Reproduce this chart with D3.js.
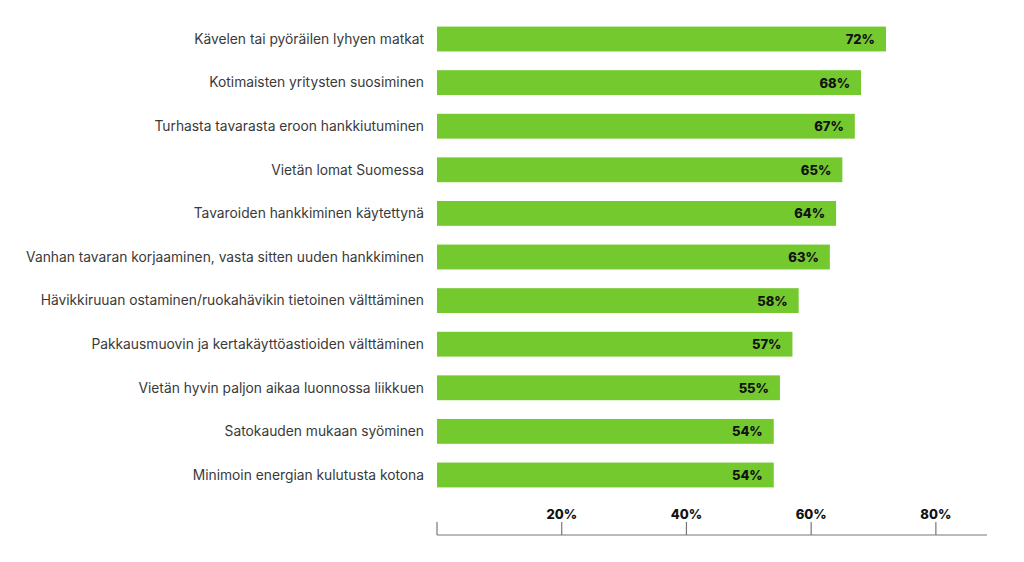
<!DOCTYPE html>
<html><head><meta charset="utf-8">
<script src="https://cdn.jsdelivr.net/npm/d3@7"></script>
<style>body{margin:0;background:#fff;}svg{display:block;}</style>
</head><body>
<svg id="chart" width="1024" height="562"></svg>
<script>
const categories = [
  "Kävelen tai pyöräilen lyhyen matkat",
  "Kotimaisten yritysten suosiminen",
  "Turhasta tavarasta eroon hankkiutuminen",
  "Vietän lomat Suomessa",
  "Tavaroiden hankkiminen käytettynä",
  "Vanhan tavaran korjaaminen, vasta sitten uuden hankkiminen",
  "Hävikkiruuan ostaminen/ruokahävikin tietoinen välttäminen",
  "Pakkausmuovin ja kertakäyttöastioiden välttäminen",
  "Vietän hyvin paljon aikaa luonnossa liikkuen",
  "Satokauden mukaan syöminen",
  "Minimoin energian kulutusta kotona"
];
const values = [72, 68, 67, 65, 64, 63, 58, 57, 55, 54, 54];
const tickValues = [20, 40, 60, 80];

const svg = d3.select("#chart");
const x = d3.scaleLinear().domain([0, 88.2]).range([437, 987]);
const y = d3.scaleBand().domain(categories).range([17, 497]).paddingInner(0.43).paddingOuter(0.22);

const g = svg.append("g");
g.selectAll("rect.bar").data(values).join("rect")
  .attr("class", "bar")
  .attr("x", x(0))
  .attr("y", (d, i) => y(categories[i]))
  .attr("width", d => x(d) - x(0))
  .attr("height", y.bandwidth())
  .attr("fill", "#74c92f");

g.selectAll("text.cat").data(categories).join("text")
  .attr("class", "cat")
  .attr("x", 424)
  .attr("y", d => y(d) + y.bandwidth() / 2)
  .attr("dy", "0.35em")
  .attr("text-anchor", "end")
  .attr("font-family", "Inter, 'Noto Sans', sans-serif")
  .attr("font-size", 13.8)
  .attr("fill", "#3a3a3a")
  .text(d => d);

g.selectAll("text.val").data(values).join("text")
  .attr("class", "val")
  .attr("x", d => x(d) - 11)
  .attr("y", (d, i) => y(categories[i]) + y.bandwidth() / 2)
  .attr("dy", "0.38em")
  .attr("text-anchor", "end")
  .attr("font-family", "Inter, 'Noto Sans', sans-serif")
  .attr("font-weight", 800)
  .attr("font-size", 13)
  .attr("fill", "#111")
  .text(d => d + "%");

// axis
const ax = svg.append("g").attr("transform", "translate(0,535)");
ax.append("line").attr("x1", x(0)).attr("x2", x(88.2)).attr("y1", 0).attr("y2", 0)
  .attr("stroke", "#777").attr("stroke-width", 1.2);
ax.selectAll("line.tick").data([0].concat(tickValues)).join("line")
  .attr("class", "tick")
  .attr("x1", d => x(d)).attr("x2", d => x(d))
  .attr("y1", -13).attr("y2", 0)
  .attr("stroke", "#777").attr("stroke-width", 1.2);
ax.selectAll("text.tl").data(tickValues).join("text")
  .attr("class", "tl")
  .attr("x", d => x(d))
  .attr("y", -16)
  .attr("text-anchor", "middle")
  .attr("font-family", "Inter, 'Noto Sans', sans-serif")
  .attr("font-weight", 800)
  .attr("font-size", 13)
  .attr("fill", "#111")
  .text(d => d + "%");
</script>
</body></html>
